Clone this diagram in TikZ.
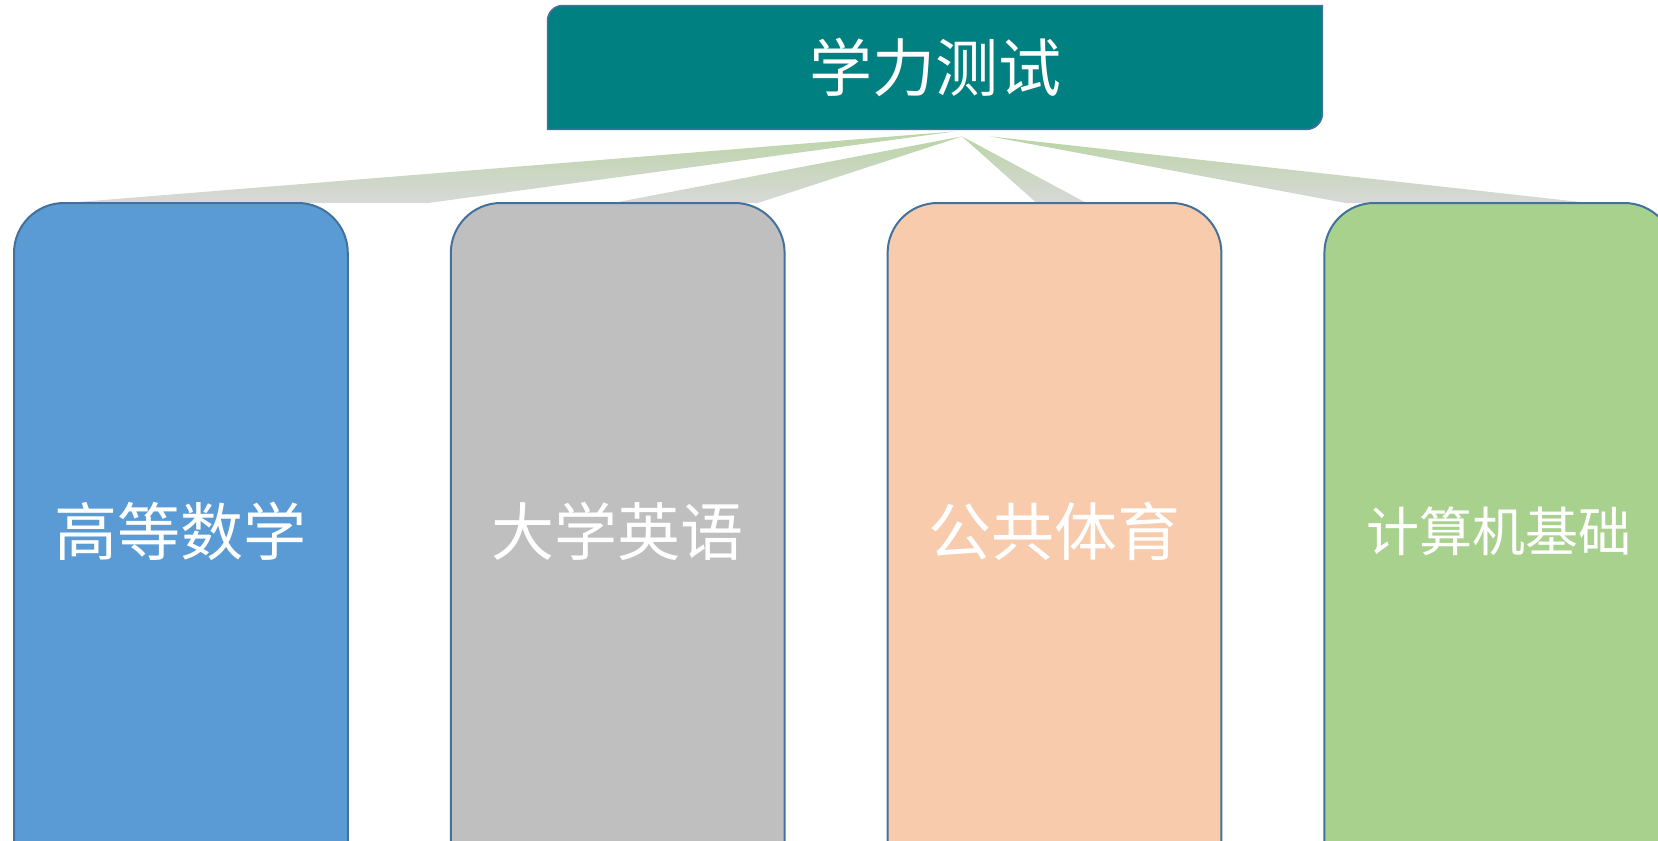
\documentclass[tikz,border=0pt]{standalone}
\usepackage{fontspec}
\setmainfont{Noto Sans CJK SC}
\usepackage{xcolor}
\usetikzlibrary{positioning, calc, backgrounds}
\definecolor{testteal}{RGB}{0, 128, 128}
\definecolor{edgeblue}{RGB}{65, 113, 156}
\definecolor{mathblue}{RGB}{91, 155, 213}
\definecolor{englishgray}{RGB}{191, 191, 191}
\definecolor{pepeach}{RGB}{248, 203, 173}
\definecolor{csgreen}{RGB}{169, 209, 142}
\definecolor{linkgreen}{RGB}{186, 213, 166}
\definecolor{linkgray}{RGB}{216, 216, 216}

\begin{document}
\begin{tikzpicture}[
        x=0.5pt, y=-0.5pt,
        node distance=51.5pt,
        headbox/.style={rectangle, inner sep=0pt, minimum width=387pt, minimum height=61.5pt, text=white, font=\fontsize{31.5}{36}\selectfont},
        card/.style={rectangle, inner sep=0pt, minimum width=166.5pt, minimum height=328pt, text=white, font=\fontsize{31.5}{36}\selectfont},
        headframe/.style={draw=edgeblue, line width=0.8pt, fill=testteal},
        cardframe/.style={draw=edgeblue, line width=1pt},
        link/.style={top color=linkgreen, bottom color=linkgray}
    ]
        \useasboundingbox (0,0) rectangle (1658,840);

        % Top
        \node[headbox] (test) at (935,67.5) {学力测试};

        % Subjects
        \node[card, anchor=north west] (math) at (14,203) {高等数学};
        \node[card, right=of math] (english) {大学英语};
        \node[card, right=of english] (pe) {公共体育};
        \node[card, right=of pe, minimum width=174.5pt, font=\fontsize{26.5}{30}\selectfont] (cs) {计算机基础};

        \begin{scope}[on background layer]
            \clip (0,0) rectangle (1658,840);

            % Links
            \shade[link] ($(test.south)+(20,2)$) -- ($(math.north west)+(52,0)$) -- ($(math.north west)+(414,0)$) -- cycle;
            \shade[link] ($(test.south)+(27,7)$) -- ($(english.north west)+(162,0)$) -- ($(english.north west)+(307,0)$) -- cycle;
            \shade[link] ($(test.south)+(27,7)$) -- ($(pe.north west)+(149,0)$) -- ($(pe.north west)+(199,0)$) -- cycle;
            \shade[link] ($(test.south)+(55,7)$) -- ($(cs.north west)+(21,0)$) -- ($(cs.north west)+(265,0)$) -- cycle;

            % Frames
            \draw[headframe] (test.south west) -- ([yshift=-7.5pt]test.north west) arc[start angle=180, end angle=90, radius=7.5pt] -- (test.north east) -- ([yshift=8pt]test.south east) arc[start angle=0, end angle=-90, radius=8pt] -- cycle;
            \draw[cardframe, fill=mathblue] ([yshift=-40pt]math.south west) -- ([yshift=-25pt]math.north west) arc[start angle=180, end angle=90, radius=25pt] -- ([xshift=-25pt]math.north east) arc[start angle=90, end angle=0, radius=25pt] -- ([yshift=-40pt]math.south east) -- cycle;
            \draw[cardframe, fill=englishgray] ([yshift=-40pt]english.south west) -- ([yshift=-25pt]english.north west) arc[start angle=180, end angle=90, radius=25pt] -- ([xshift=-25pt]english.north east) arc[start angle=90, end angle=0, radius=25pt] -- ([yshift=-40pt]english.south east) -- cycle;
            \draw[cardframe, fill=pepeach] ([yshift=-40pt]pe.south west) -- ([yshift=-25pt]pe.north west) arc[start angle=180, end angle=90, radius=25pt] -- ([xshift=-25pt]pe.north east) arc[start angle=90, end angle=0, radius=25pt] -- ([yshift=-40pt]pe.south east) -- cycle;
            \draw[cardframe, fill=csgreen] ([yshift=-40pt]cs.south west) -- ([yshift=-25pt]cs.north west) arc[start angle=180, end angle=90, radius=25pt] -- ([xshift=-25pt]cs.north east) arc[start angle=90, end angle=0, radius=25pt] -- ([yshift=-40pt]cs.south east) -- cycle;
        \end{scope}
    \end{tikzpicture}
\end{document}
